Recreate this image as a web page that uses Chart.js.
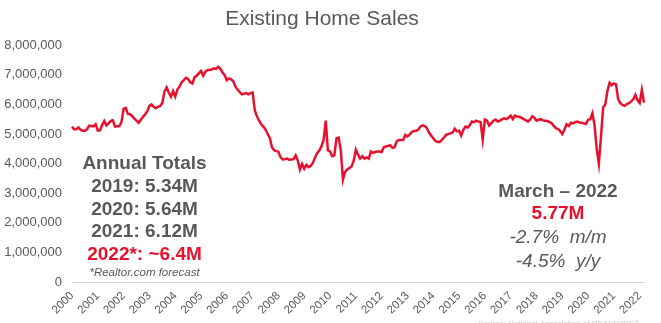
<!DOCTYPE html>
<html>
<head>
<meta charset="utf-8">
<script src="https://cdn.jsdelivr.net/npm/chart.js@4.4.1/dist/chart.umd.min.js"></script>
<style>
  html, body { margin: 0; padding: 0; background: #ffffff; }
  #wrap { width: 661px; height: 323px; position: relative; }
</style>
</head>
<body>
<div id="wrap"><canvas id="c" width="661" height="323"></canvas></div>
<script>
// Monthly existing home sales (SAAR, millions), Jan 2000 - Mar 2022
const startYear = 2000;
const sales2000 = [5.25, 5.16, 5.16, 5.22, 5.14, 5.11, 5.11, 5.16, 5.28, 5.27, 5.26, 5.33];
const sales2001 = [5.11, 5.12, 5.30, 5.44, 5.29, 5.36, 5.44, 5.46, 5.25, 5.26, 5.27, 5.40];
const sales2002 = [5.85, 5.88, 5.68, 5.67, 5.60, 5.52, 5.45, 5.38, 5.48, 5.58, 5.66, 5.76];
const sales2003 = [5.95, 6.00, 5.92, 5.87, 5.92, 5.95, 6.05, 6.43, 6.57, 6.40, 6.26, 6.45];
const sales2004 = [6.26, 6.50, 6.60, 6.75, 6.82, 6.90, 6.86, 6.75, 6.71, 6.92, 6.97, 7.05];
const sales2005 = [7.13, 6.97, 7.10, 7.16, 7.16, 7.18, 7.22, 7.20, 7.27, 7.20, 7.08, 6.99];
const sales2006 = [6.82, 6.88, 6.85, 6.78, 6.60, 6.50, 6.41, 6.34, 6.36, 6.38, 6.34, 6.38];
const sales2007 = [6.40, 5.80, 5.60, 5.45, 5.33, 5.25, 5.15, 5.00, 4.86, 4.55, 4.45, 4.42];
const sales2008 = [4.40, 4.21, 4.14, 4.15, 4.17, 4.13, 4.14, 4.15, 4.28, 4.10, 3.80, 3.99];
const sales2009 = [3.83, 3.96, 3.88, 3.92, 4.02, 4.20, 4.35, 4.44, 4.58, 4.80, 5.45, 4.45];
const sales2010 = [4.41, 4.25, 4.28, 4.86, 4.88, 4.45, 3.46, 3.72, 3.80, 3.85, 3.90, 4.10];
const sales2011 = [4.47, 4.30, 4.17, 4.25, 4.17, 4.21, 4.17, 4.41, 4.36, 4.39, 4.41, 4.41];
const sales2012 = [4.39, 4.55, 4.58, 4.60, 4.62, 4.53, 4.55, 4.75, 4.80, 4.80, 4.80, 4.97];
const sales2013 = [4.92, 4.98, 5.07, 5.10, 5.11, 5.14, 5.25, 5.29, 5.27, 5.20, 5.05, 4.95];
const sales2014 = [4.86, 4.76, 4.73, 4.73, 4.80, 4.88, 4.97, 5.00, 5.02, 5.05, 5.18, 5.09];
const sales2015 = [5.11, 4.95, 5.14, 5.25, 5.22, 5.30, 5.42, 5.40, 5.45, 5.42, 5.40, 4.81];
const sales2016 = [5.49, 5.45, 5.29, 5.37, 5.45, 5.49, 5.42, 5.45, 5.50, 5.53, 5.50, 5.55];
const sales2017 = [5.62, 5.50, 5.62, 5.59, 5.58, 5.55, 5.50, 5.47, 5.42, 5.48, 5.60, 5.55];
const sales2018 = [5.45, 5.48, 5.50, 5.46, 5.45, 5.44, 5.40, 5.37, 5.27, 5.20, 5.17, 5.10];
const sales2019 = [5.00, 5.15, 5.33, 5.27, 5.38, 5.36, 5.40, 5.42, 5.39, 5.38, 5.36, 5.34];
const sales2020 = [5.48, 5.50, 5.70, 5.30, 4.50, 4.00, 4.90, 5.90, 6.00, 6.45, 6.73, 6.65];
const sales2021 = [6.71, 6.68, 6.17, 6.04, 5.98, 5.95, 6.01, 6.04, 6.10, 6.17, 6.32, 6.14];
const sales2022 = [6.05, 6.49, 6.06];

const yearTickLabels = ["2000","2001","2002","2003","2004","2005","2006","2007","2008","2009","2010",
  "2011","2012","2013","2014","2015","2016","2017","2018","2019","2020","2021","2022"];

const chartTitle = "Existing Home Sales";
const annualLines = ["Annual Totals", "2019: 5.34M", "2020: 5.64M", "2021: 6.12M"];
const forecastLine = "2022*: ~6.4M";
const forecastNote = "*Realtor.com forecast";
const monthHeader = "March \u2013 2022";
const monthValue = "5.77M";
const monthChanges = ["-2.7%  m/m", "-4.5%  y/y"];
const sourceNote = "Source: National Association of REALTORS\u00ae";

const allYears = [sales2000, sales2001, sales2002, sales2003, sales2004, sales2005, sales2006, sales2007,
  sales2008, sales2009, sales2010, sales2011, sales2012, sales2013, sales2014, sales2015, sales2016,
  sales2017, sales2018, sales2019, sales2020, sales2021, sales2022];

const values = [];
const labels = [];
allYears.forEach((arr, yi) => {
  arr.forEach((v, mi) => {
    values.push(v * 1000000);
    labels.push(mi === 0 ? yearTickLabels[yi] : "");
  });
});

const RED = "#E8112D";
const GRAY = "#595959";

const annotations = {
  id: "annotations",
  afterDraw(chart) {
    const ctx = chart.ctx;
    ctx.save();
    ctx.textAlign = "center";
    ctx.textBaseline = "middle";
    // Left block
    const lx = 144.5;
    const lys = [164, 187, 210, 232];
    ctx.fillStyle = GRAY;
    ctx.font = "bold 19px 'Liberation Sans', Arial, sans-serif";
    annualLines.forEach((t, i) => ctx.fillText(t, lx, lys[i]));
    ctx.fillStyle = RED;
    ctx.fillText(forecastLine, lx, 255);
    ctx.fillStyle = GRAY;
    ctx.font = "italic 11.5px 'Liberation Sans', Arial, sans-serif";
    ctx.fillText(forecastNote, lx, 273);
    // Right block
    const rx = 558;
    ctx.font = "bold 19px 'Liberation Sans', Arial, sans-serif";
    ctx.fillStyle = GRAY;
    ctx.fillText(monthHeader, rx, 192);
    ctx.fillStyle = RED;
    ctx.fillText(monthValue, rx, 214);
    ctx.fillStyle = GRAY;
    ctx.font = "italic 19px 'Liberation Sans', Arial, sans-serif";
    ctx.fillText(monthChanges[0], rx, 238);
    ctx.fillText(monthChanges[1], rx, 262);
    // faint source
    ctx.textAlign = "right";
    ctx.textBaseline = "top";
    ctx.font = "8px 'Liberation Sans', Arial, sans-serif";
    ctx.fillStyle = "#c8c8c8";
    ctx.fillText(sourceNote, 640, 320);
    ctx.restore();
  }
};

new Chart(document.getElementById("c"), {
  type: "line",
  data: {
    labels: labels,
    datasets: [{
      data: values,
      borderColor: RED,
      borderWidth: 2.5,
      pointRadius: 0,
      tension: 0,
      fill: false
    }]
  },
  options: {
    responsive: false,
    animation: false,
    events: [],
    layout: { padding: { left: 0, right: 17, top: 0, bottom: 0 } },
    plugins: {
      legend: { display: false },
      tooltip: { enabled: false },
      title: {
        display: true,
        text: chartTitle,
        color: GRAY,
        font: { family: "'Liberation Sans', Arial, sans-serif", size: 21, weight: "normal" },
        padding: { top: 7, bottom: 13 }
      }
    },
    scales: {
      x: {
        type: "category",
        offset: false,
        grid: { display: false, drawTicks: false },
        border: { display: true, color: "#d9d9d9", width: 1 },
        ticks: {
          autoSkip: false,
          maxRotation: 45,
          minRotation: 45,
          padding: 7,
          color: GRAY,
          font: { family: "'Liberation Sans', Arial, sans-serif", size: 11.5 },
          callback: function(val, idx) {
            const l = this.getLabelForValue(val);
            return l === "" ? null : l;
          }
        },
        afterFit(scale) { scale.height = 41; }
      },
      y: {
        min: 0,
        max: 8000000,
        grid: { display: false, drawTicks: false },
        border: { display: false },
        ticks: {
          stepSize: 1000000,
          padding: 10,
          color: GRAY,
          font: { family: "'Liberation Sans', Arial, sans-serif", size: 13 },
          callback: v => v.toLocaleString("en-US")
        },
        afterFit(scale) { scale.width = 72; }
      }
    }
  },
  plugins: [annotations]
});
</script>
</body>
</html>
